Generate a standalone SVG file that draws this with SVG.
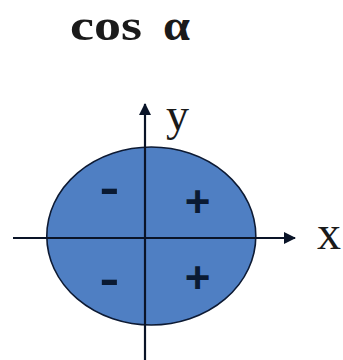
<svg xmlns="http://www.w3.org/2000/svg" width="343" height="360" viewBox="0 0 343 360">
<defs>
<style>
.axis{stroke:#0a1428;stroke-width:2.2;fill:none}
.lbl{font-family:"Liberation Serif","Times New Roman",serif;fill:#1a1a1a}
.sign{font-family:"Liberation Sans",Arial,sans-serif;font-weight:bold;fill:#0a1a33;text-anchor:middle}
</style>
<marker id="arr" viewBox="0 0 12 12" refX="11" refY="6" markerWidth="12" markerHeight="12" markerUnits="userSpaceOnUse" orient="auto">
<path d="M0,0 L12,6 L0,12 Z" fill="#0a1428"/>
</marker>
</defs>
<rect width="343" height="360" fill="#ffffff"/>
<g id="title">
<text class="lbl" x="70" y="40" font-size="44" font-weight="bold" fill="#111"><tspan textLength="72" lengthAdjust="spacingAndGlyphs">cos</tspan><tspan x="163" textLength="27" lengthAdjust="spacingAndGlyphs">α</tspan></text>
</g>
<g id="circle">
<ellipse cx="151.3" cy="236" rx="104.5" ry="89" fill="#4f7fc3" stroke="#0d1a33" stroke-width="1.6"/>
</g>
<g id="connectors">
<line class="axis" x1="13" y1="238" x2="295" y2="238" marker-end="url(#arr)"/>
<line class="axis" x1="145" y1="360" x2="145" y2="104" marker-end="url(#arr)"/>
</g>
<g id="labels">
<text class="lbl" x="166" y="130" font-size="46">y</text>
<text class="lbl" x="317" y="249" font-size="48">x</text>
</g>
<g id="signs">
<text class="sign" transform="translate(109.5,202.5) scale(1.35,1)" x="0" y="0" font-size="44">-</text>
<text class="sign" x="197.5" y="216.5" font-size="44">+</text>
<text class="sign" transform="translate(109.5,294) scale(1.35,1)" x="0" y="0" font-size="44">-</text>
<text class="sign" x="197.5" y="292.5" font-size="44">+</text>
</g>
</svg>
